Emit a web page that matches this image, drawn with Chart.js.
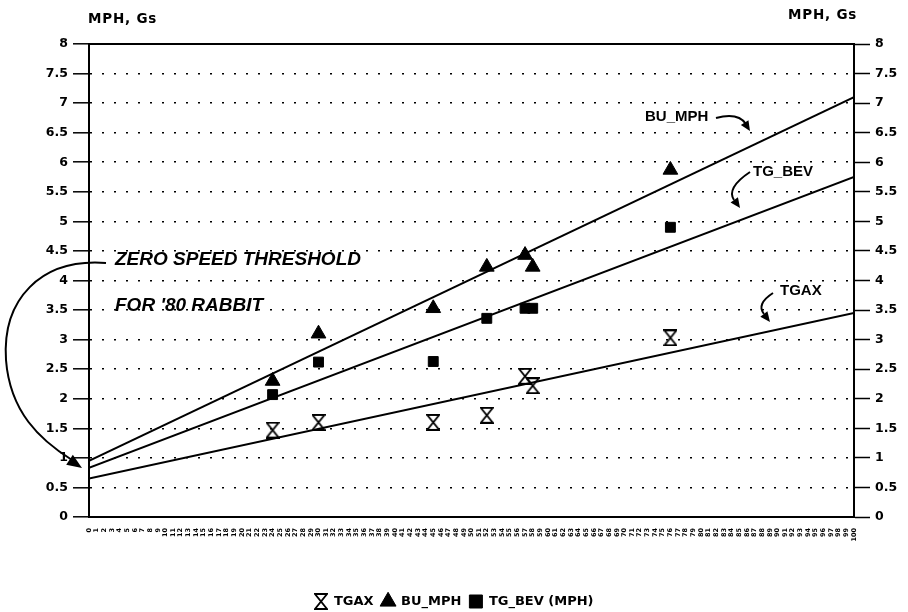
<!DOCTYPE html>
<html>
<head>
<meta charset="utf-8">
<script src="https://cdn.jsdelivr.net/npm/chart.js@4.4.1/dist/chart.umd.min.js"></script>
<style>
  html, body { margin: 0; padding: 0; background: #fff; }
  #wrap { width: 908px; height: 612px; }
</style>
</head>
<body>
<div id="wrap"><canvas id="c" width="908" height="612"></canvas></div>
<script>
// ---- data ----
const xTickLabels = ["0","1","2","3","4","5","6","7","8","9","10","11","12","13","14","15","16","17","18","19","20","21","22","23","24","25","26","27","28","29","30","31","32","33","34","35","36","37","38","39","40","41","42","43","44","45","46","47","48","49","50","51","52","53","54","55","56","57","58","59","60","61","62","63","64","65","66","67","68","69","70","71","72","73","74","75","76","77","78","79","80","81","82","83","84","85","86","87","88","89","90","91","92","93","94","95","96","97","98","99","100"];
const yTickValues = [0, 0.5, 1, 1.5, 2, 2.5, 3, 3.5, 4, 4.5, 5, 5.5, 6, 6.5, 7, 7.5, 8];
const sampleX = [24, 30, 45, 52, 57, 58, 76];
const tgax   = [1.47, 1.60, 1.60, 1.72, 2.38, 2.22, 3.03];
const buMph  = [2.30, 3.10, 3.53, 4.23, 4.43, 4.23, 5.87];
const tgBev  = [2.07, 2.62, 2.63, 3.36, 3.53, 3.53, 4.90];
const trendX      = [0, 100];
const buTrend     = [0.95, 7.10];
const bevTrend    = [0.83, 5.75];
const tgaxTrend   = [0.65, 3.45];
const seriesNames = ["TGAX", "BU_MPH", "TG_BEV (MPH)"];
const axisTitle = "MPH, Gs";

const pts = (xs, ys) => xs.map((x, i) => ({ x: x, y: ys[i] }));

function hourglass(w, h) {
  const c = document.createElement('canvas');
  c.width = w; c.height = h;
  const g = c.getContext('2d');
  g.strokeStyle = '#000'; g.lineWidth = 1.8; g.lineJoin = 'miter';
  g.beginPath();
  g.moveTo(1, 1); g.lineTo(w - 1, 1); g.lineTo(1, h - 1); g.lineTo(w - 1, h - 1); g.closePath();
  g.stroke();
  return c;
}
const hgImg = hourglass(14, 17);

const tickFont = { family: 'DejaVu Sans', weight: 'bold', size: 12.5 };

function arrowHead(ctx, x, y, ang, len, wid) {
  ctx.save();
  ctx.translate(x, y); ctx.rotate(ang);
  ctx.beginPath();
  ctx.moveTo(0, 0); ctx.lineTo(-len, -wid / 2); ctx.lineTo(-len, wid / 2); ctx.closePath();
  ctx.fill();
  ctx.restore();
}

const annotations = {
  id: 'annotations',
  afterDraw(chart) {
    const ctx = chart.ctx;
    const a = chart.chartArea;
    ctx.save();
    ctx.fillStyle = '#000'; ctx.strokeStyle = '#000';
    // top frame line
    ctx.lineWidth = 2;
    ctx.beginPath(); ctx.moveTo(a.left, a.top); ctx.lineTo(a.right, a.top); ctx.stroke();
    // axis titles
    ctx.font = 'bold 13.5px "DejaVu Sans"';
    ctx.textBaseline = 'middle'; ctx.textAlign = 'left';
    if ('letterSpacing' in ctx) ctx.letterSpacing = '0.8px';
    ctx.fillText(axisTitle, 88, 19);
    ctx.fillText(axisTitle, 788, 15);
    if ('letterSpacing' in ctx) ctx.letterSpacing = '0px';
    // italic notes
    ctx.font = 'italic bold 19px "Liberation Sans"';
    ctx.fillText('ZERO SPEED THRESHOLD', 115, 260);
    ctx.fillText("FOR '80 RABBIT", 115, 306);
    // series labels
    ctx.font = 'bold 15px "Liberation Sans"';
    ctx.fillText('BU_MPH', 645, 117);
    ctx.fillText('TG_BEV', 753, 172);
    ctx.fillText('TGAX', 780, 291);
    // curved arrows
    ctx.lineWidth = 2;
    ctx.beginPath();
    ctx.moveTo(106, 263);
    ctx.bezierCurveTo(40, 258, 2, 300, 6, 360);
    ctx.bezierCurveTo(10, 412, 40, 440, 72, 460);
    ctx.stroke();
    arrowHead(ctx, 82, 468, Math.atan2(468 - 440, 82 - 40), 15, 12);

    ctx.lineWidth = 2;
    ctx.beginPath(); ctx.moveTo(716, 118); ctx.quadraticCurveTo(738, 112, 746, 124); ctx.stroke();
    arrowHead(ctx, 750, 131, Math.atan2(131 - 112, 750 - 738), 10, 9);

    ctx.beginPath(); ctx.moveTo(750, 172); ctx.quadraticCurveTo(726, 188, 734, 200); ctx.stroke();
    arrowHead(ctx, 740, 208, Math.atan2(208 - 188, 740 - 726), 10, 9);

    ctx.beginPath(); ctx.moveTo(773, 293); ctx.quadraticCurveTo(756, 304, 764, 314); ctx.stroke();
    arrowHead(ctx, 770, 322, Math.atan2(322 - 304, 770 - 756), 10, 9);
    ctx.restore();
  }
};

const yCommon = {
  type: 'linear', min: 0, max: 8,
  afterBuildTicks: s => { s.ticks = yTickValues.map(v => ({ value: v })); },
  ticks: { color: '#000', font: tickFont, padding: 5, callback: v => String(v) },
  border: { display: true, color: '#000', width: 2, dash: [2, 10] },
};

new Chart(document.getElementById('c'), {
  data: {
    datasets: [
      { type: 'scatter', label: seriesNames[0], data: pts(sampleX, tgax), pointStyle: hgImg,
        backgroundColor: '#000', borderColor: '#000', pointRadius: 8 },
      { type: 'scatter', label: seriesNames[1], data: pts(sampleX, buMph), pointStyle: 'triangle',
        backgroundColor: '#000', borderColor: '#000', pointRadius: 8.5, borderWidth: 1 },
      { type: 'scatter', label: seriesNames[2], data: pts(sampleX, tgBev), pointStyle: 'rect',
        backgroundColor: '#000', borderColor: '#000', pointRadius: 7, borderWidth: 1 },
      { type: 'line', label: 'BU_MPH fit', data: pts(trendX, buTrend), borderColor: '#000', borderWidth: 2, pointRadius: 0 },
      { type: 'line', label: 'TG_BEV fit', data: pts(trendX, bevTrend), borderColor: '#000', borderWidth: 2, pointRadius: 0 },
      { type: 'line', label: 'TGAX fit', data: pts(trendX, tgaxTrend), borderColor: '#000', borderWidth: 2, pointRadius: 0 },
    ]
  },
  options: {
    responsive: false,
    animation: false,
    layout: { padding: { top: 44, left: 0, right: 0, bottom: -6 } },
    plugins: {
      tooltip: { enabled: false },
      legend: {
        position: 'bottom',
        labels: {
          filter: it => it.datasetIndex < 3,
          usePointStyle: true, boxWidth: 14, boxHeight: 13, padding: 8,
          color: '#000', font: { family: 'DejaVu Sans', weight: 'bold', size: 13 }
        }
      }
    },
    scales: {
      x: {
        type: 'linear', min: 0, max: 100,
        afterBuildTicks: s => { s.ticks = xTickLabels.map((t, i) => ({ value: i })); },
        afterFit: s => { const lh = s.chart.legend ? s.chart.legend.height : 30; s.height = 612 + 6 - 517 - lh; },
        ticks: { autoSkip: false, minRotation: 90, maxRotation: 90, padding: 3, color: '#000',
                 font: { family: 'DejaVu Sans', size: 6.5, weight: 'bold' },
                 callback: (v, i) => xTickLabels[i] },
        grid: { display: false },
        border: { display: true, color: '#000', width: 2 }
      },
      y: Object.assign({}, yCommon, {
        position: 'left',
        afterFit: s => { s.width = 89; },
        grid: { color: c => (c.tick && (c.tick.value === 0 || c.tick.value === 8)) ? 'rgba(0,0,0,0)' : '#000',
                lineWidth: 1.6, drawTicks: true, tickLength: 16, tickColor: '#000', tickWidth: 1.5, tickBorderDash: [] }
      }),
      y2: Object.assign({}, yCommon, {
        position: 'right',
        afterFit: s => { s.width = 54; },
        grid: { drawOnChartArea: false, drawTicks: true, tickLength: 16, tickColor: '#000', tickWidth: 1.5, tickBorderDash: [] },
        border: { display: true, color: '#000', width: 2 }
      })
    }
  },
  plugins: [annotations]
});
</script>
</body>
</html>
